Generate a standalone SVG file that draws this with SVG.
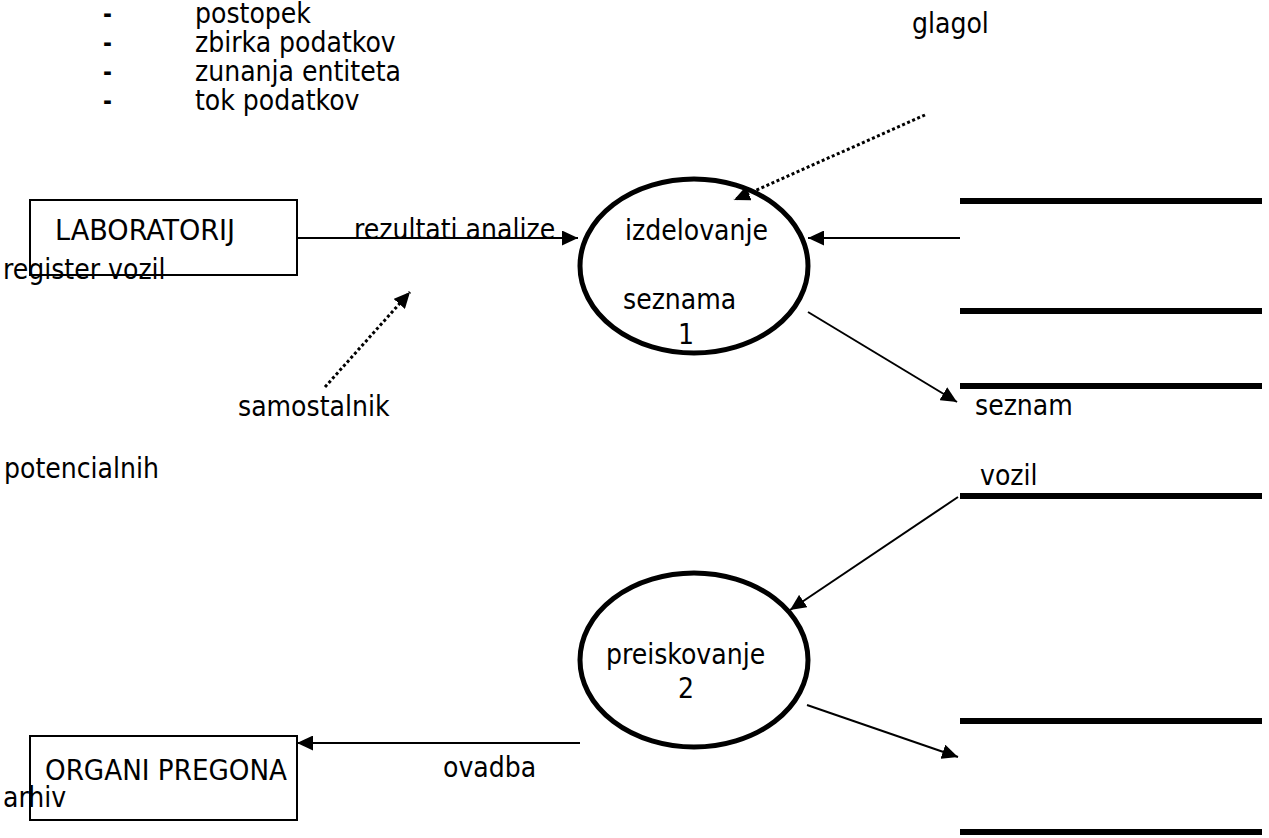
<svg xmlns="http://www.w3.org/2000/svg" width="1269" height="838" viewBox="0 0 1269 838">
  <style>
    text { font-family: "DejaVu Sans Condensed", "DejaVu Sans", Tahoma, sans-serif; font-stretch: condensed; font-size: 28px; fill: #000; }
    text.dash { font-weight: bold; font-size: 24px; }
    .box { fill: #fff; stroke: #000; stroke-width: 2; }
    .proc { fill: none; stroke: #000; stroke-width: 5; }
    .store { stroke: #000; stroke-width: 6; }
    .flow { stroke: #000; stroke-width: 2; fill: none; }
    .hint { stroke: #000; stroke-width: 3; stroke-dasharray: 3 2.5; fill: none; }
  </style>
  <defs>
    <marker id="arrowBig" viewBox="0 0 10 10" refX="10" refY="5" markerWidth="16" markerHeight="15" markerUnits="userSpaceOnUse" orient="auto" preserveAspectRatio="none">
      <path d="M0,0 L10,5 L0,10 z" fill="#000"/>
    </marker>
  </defs>

  <!-- legend of DFD symbols -->
  <g id="legend">
    <text class="dash" x="103" y="22">-</text>
    <text x="195" y="23">postopek</text>
    <text class="dash" x="103" y="51">-</text>
    <text x="195" y="52">zbirka podatkov</text>
    <text class="dash" x="103" y="80">-</text>
    <text x="195" y="81">zunanja entiteta</text>
    <text class="dash" x="103" y="109">-</text>
    <text x="195" y="110">tok podatkov</text>
  </g>

  <!-- data stores (open-ended parallel lines) -->
  <g id="store-register">
    <line class="store" x1="960" y1="201" x2="1262" y2="201"/>
    <line class="store" x1="960" y1="311" x2="1262" y2="311"/>
  </g>
  <g id="store-seznam">
    <line class="store" x1="960" y1="386" x2="1262" y2="386"/>
    <line class="store" x1="960" y1="496" x2="1262" y2="496"/>
    <text x="975" y="415">seznam</text>
    <text x="980" y="485">vozil</text>
  </g>
  <g id="store-arhiv">
    <line class="store" x1="960" y1="721" x2="1262" y2="721"/>
    <line class="store" x1="960" y1="832" x2="1262" y2="832"/>
  </g>

  <!-- connectors -->
  <g id="connectors">
    <line class="flow" x1="297" y1="238" x2="578" y2="238" marker-end="url(#arrowBig)"/>
    <line class="flow" x1="960" y1="238" x2="808" y2="238" marker-end="url(#arrowBig)"/>
    <line class="flow" x1="808" y1="312" x2="957" y2="402" marker-end="url(#arrowBig)"/>
    <line class="flow" x1="958" y1="497" x2="790" y2="610" marker-end="url(#arrowBig)"/>
    <line class="flow" x1="807" y1="705" x2="958" y2="757" marker-end="url(#arrowBig)"/>
    <line class="flow" x1="580" y1="743" x2="297" y2="743" marker-end="url(#arrowBig)"/>
    <line class="hint" x1="925" y1="115" x2="734" y2="200" marker-end="url(#arrowBig)"/>
    <line class="hint" x1="325" y1="387" x2="410" y2="292" marker-end="url(#arrowBig)"/>
  </g>

  <!-- connector labels and free notes -->
  <g id="labels">
    <text x="354" y="239">rezultati analize</text>
    <text x="443" y="777">ovadba</text>
    <text x="912" y="33">glagol</text>
    <text x="238" y="416">samostalnik</text>
    <text x="4" y="478">potencialnih</text>
  </g>

  <!-- external entities -->
  <g id="entity-laboratorij">
    <rect class="box" x="30" y="200" width="267" height="75"/>
    <text x="55" y="240" textLength="180" lengthAdjust="spacingAndGlyphs">LABORATORIJ</text>
    <text x="3" y="279">register vozil</text>
  </g>
  <g id="entity-organi">
    <rect class="box" x="30" y="736" width="267" height="84"/>
    <text x="45" y="780" textLength="242" lengthAdjust="spacingAndGlyphs">ORGANI PREGONA</text>
    <text x="3" y="807">arhiv</text>
  </g>

  <!-- processes -->
  <g id="process-1">
    <ellipse class="proc" cx="694" cy="266" rx="114" ry="87"/>
    <text x="625" y="240">izdelovanje</text>
    <text x="623" y="309">seznama</text>
    <text x="678" y="344">1</text>
  </g>
  <g id="process-2">
    <ellipse class="proc" cx="694" cy="660" rx="114" ry="87"/>
    <text x="606" y="664">preiskovanje</text>
    <text x="678" y="698">2</text>
  </g>
</svg>
